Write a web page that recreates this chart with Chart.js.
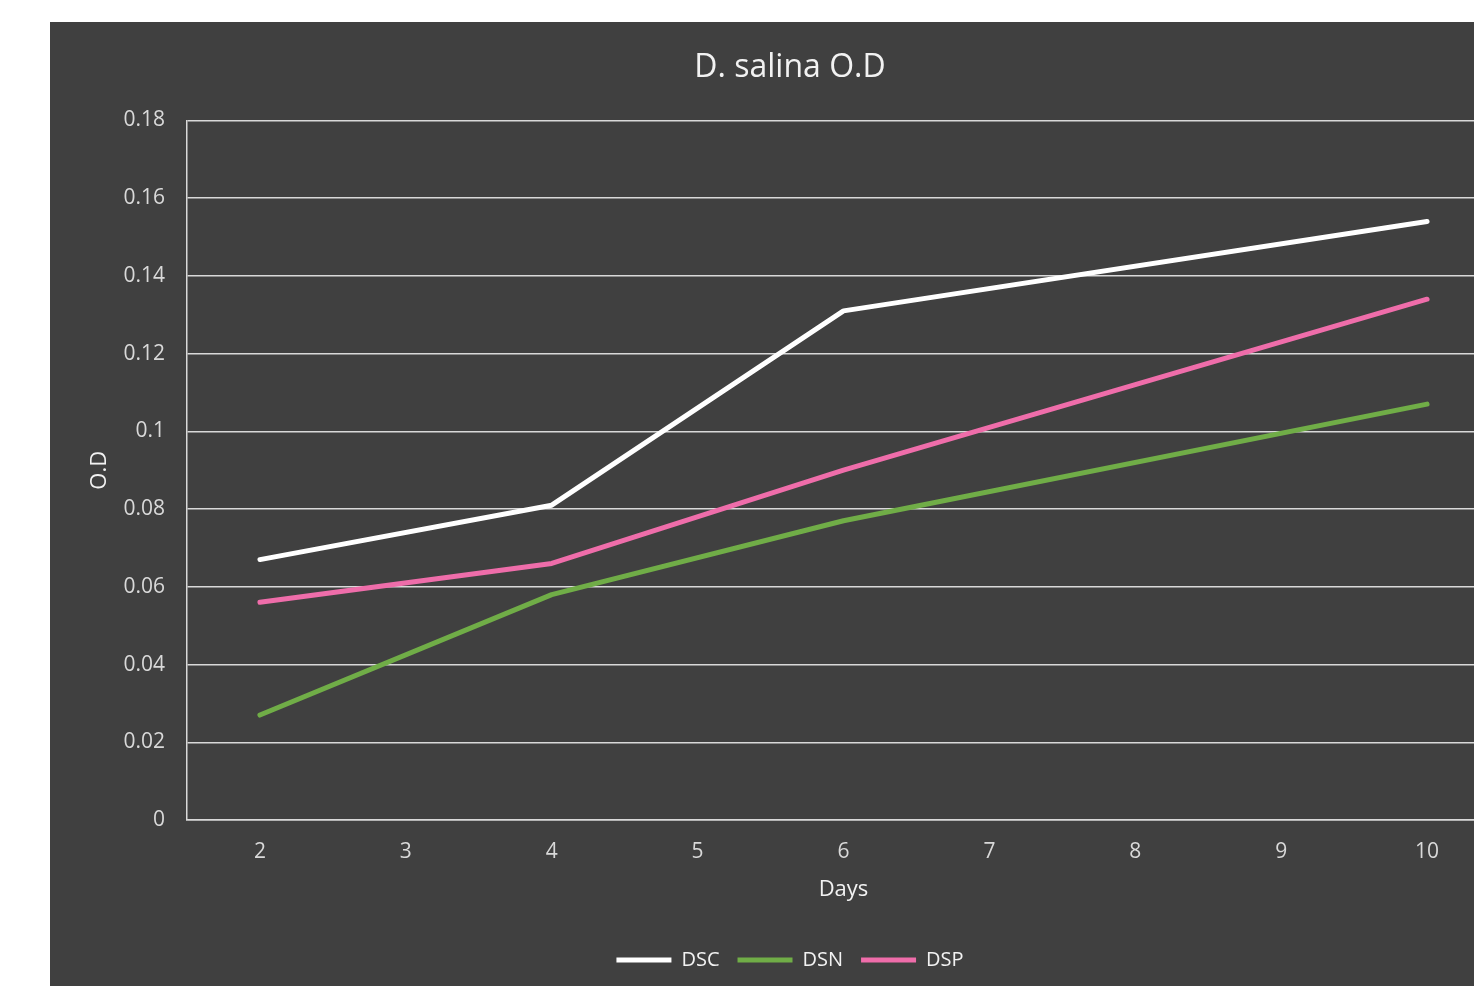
<!DOCTYPE html>
<html>
<head>
<meta charset="utf-8">
<script src="https://cdn.jsdelivr.net/npm/chart.js@4/dist/chart.umd.min.js"></script>
<style>
  html, body { margin: 0; padding: 0; background: #ffffff; overflow: hidden; width: 1474px; height: 986px; }
  #wrap { position: absolute; left: 50px; top: 22px; width: 1480px; height: 964px; background: #404040; }
  canvas { display: block; }
</style>
</head>
<body>
<div id="wrap"><canvas id="c" width="1480" height="964"></canvas></div>
<script>
// ---- data ----
const days = ['2', '3', '4', '5', '6', '7', '8', '9', '10'];
const measuredDays = ['2', '4', '6', '10'];
const dsc = [0.067, 0.081, 0.131, 0.154];
const dsn = [0.027, 0.058, 0.077, 0.107];
const dsp = [0.056, 0.066, 0.090, 0.134];
const seriesNames = ['DSC', 'DSN', 'DSP'];
const yTicks = [0, 0.02, 0.04, 0.06, 0.08, 0.1, 0.12, 0.14, 0.16, 0.18];

const colors = ['#ffffff', '#70ad47', '#ef6daa'];
const FONT = "'Open Sans', 'Liberation Sans', sans-serif";

function pts(vals) { return measuredDays.map((d, i) => ({ x: d, y: vals[i] })); }

const datasets = [dsc, dsn, dsp].map((vals, i) => ({
  label: seriesNames[i],
  data: pts(vals),
  borderColor: colors[i],
  backgroundColor: colors[i],
  borderWidth: 5,
  borderCapStyle: 'round',
  borderJoinStyle: 'round',
  pointRadius: 0,
  pointHoverRadius: 0,
  tension: 0,
  fill: false
}));

new Chart(document.getElementById('c'), {
  type: 'line',
  data: { labels: days, datasets },
  options: {
    responsive: false,
    animation: false,
    layout: { padding: { left: 30, right: 30, top: 0, bottom: 6 } },
    plugins: {
      title: {
        display: true,
        text: 'D. salina O.D',
        color: '#f2f2f2',
        font: { family: FONT, size: 32, weight: 'normal' },
        padding: { top: 27, bottom: 33 }
      },
      legend: {
        position: 'bottom',
        labels: {
          color: '#f2f2f2',
          font: { family: FONT, size: 20 },
          usePointStyle: true,
          pointStyle: 'line',
          pointStyleWidth: 55,
          padding: 18
        }
      },
      tooltip: { enabled: false }
    },
    scales: {
      x: {
        type: 'category',
        offset: true,
        grid: { display: false, drawTicks: false },
        border: { display: true, color: '#d9d9d9', width: 1.5 },
        ticks: { color: '#d9d9d9', font: { family: FONT, size: 21 }, padding: 19, maxRotation: 0 },
        title: {
          display: true, text: 'Days', color: '#f2f2f2',
          font: { family: FONT, size: 22 }, padding: { top: 10, bottom: 29 }
        },
        afterFit: s => { s.height = 112; }
      },
      y: {
        min: 0, max: 0.18,
        afterBuildTicks: s => { s.ticks = yTicks.map(v => ({ value: v })); },
        grid: { color: '#d9d9d9', lineWidth: 1.5, drawTicks: false },
        border: { display: true, color: '#d9d9d9', width: 1.5 },
        ticks: {
          color: '#d9d9d9', font: { family: FONT, size: 21 }, padding: 22,
          callback: v => String(+v.toFixed(2))
        },
        title: {
          display: true, text: 'O.D', color: '#f2f2f2',
          font: { family: FONT, size: 22 }, padding: { top: 7, bottom: 0 }
        },
        afterFit: s => { s.width = 107; }
      }
    }
  }
});
</script>
</body>
</html>
